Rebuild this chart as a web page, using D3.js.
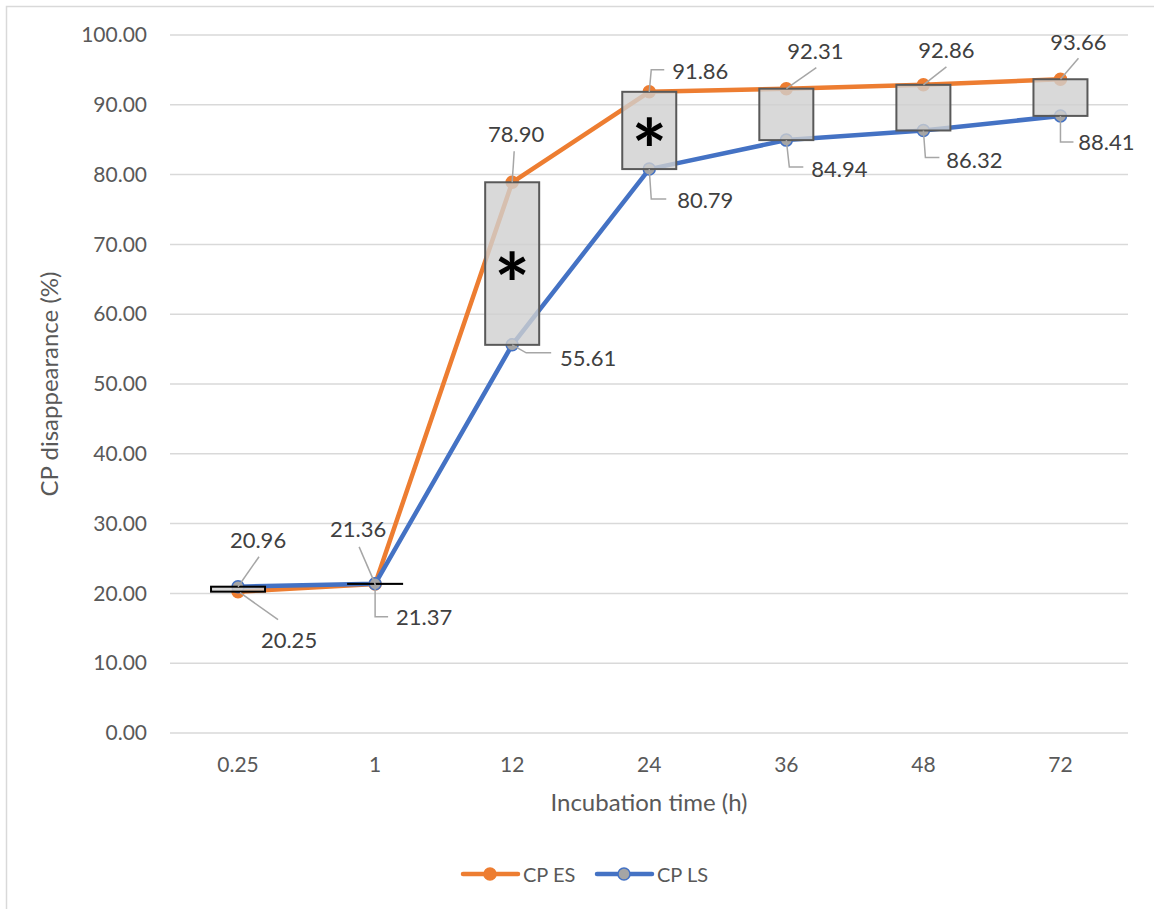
<!DOCTYPE html>
<html>
<head>
<meta charset="utf-8">
<script src="https://cdn.jsdelivr.net/npm/d3@7"></script>
<style>
  html, body { margin: 0; padding: 0; background: #fff; }
  svg { display: block; }
  text { font-family: Lato, "Open Sans", sans-serif; fill: #595959; }
</style>
</head>
<body>
<svg id="chart" width="1154" height="909"></svg>
<script>
// Incubation times (h) and CP disappearance (%) per silage type
const categories = ["0.25", "1", "12", "24", "36", "48", "72"];
const cpES = [20.25, 21.36, 78.90, 91.86, 92.31, 92.86, 93.66];
const cpLS = [20.96, 21.37, 55.61, 80.79, 84.94, 86.32, 88.41];
const significant = [false, false, true, true, false, false, false];
const yTicks = [0, 10, 20, 30, 40, 50, 60, 70, 80, 90, 100];
const seriesNames = ["CP ES", "CP LS"];

// Data-label placement: label centre offset and leader path, relative to the marker
const labelLayoutES = [
  { dx: 51, dy: 48, leader: [[2, 1], [40, 28]] },
  { dx: -17, dy: -55, leader: [[0, 0], [-16, -37]] },
  { dx: 4, dy: -49, leader: [[0, 0], [2, -31]] },
  { dx: 51, dy: -21, leader: [[0, 0], [2, -22], [15, -22]] },
  { dx: 29, dy: -38, leader: [[0, 0], [30, -21]] },
  { dx: 23, dy: -35, leader: [[0, 0], [23, -18]] },
  { dx: 18, dy: -38, leader: [[0, 0], [18, -21]] }
];
const labelLayoutLS = [
  { dx: 20, dy: -47, leader: [[0, 0], [21, -30]] },
  { dx: 49, dy: 33, leader: [[0, 0], [0, 33], [13, 33]] },
  { dx: 76, dy: 13, leader: [[0, 0], [14, 8], [39, 8]] },
  { dx: 56, dy: 30, leader: [[0, 0], [2, 30], [17, 30]] },
  { dx: 53, dy: 28, leader: [[0, 0], [3, 27], [17, 27]] },
  { dx: 51, dy: 29, leader: [[0, 0], [2, 27], [16, 27]] },
  { dx: 46, dy: 26, leader: [[0, 0], [0, 26], [13, 26]] }
];

const ORANGE = "#ED7D31", BLUE = "#4472C4", GRID = "#D9D9D9", LEADER = "#A6A6A6";

const svg = d3.select("#chart");

// chart frame
svg.append("path")
  .attr("d", "M6.5,909 L6.5,6.5 L1154,6.5")
  .attr("fill", "none").attr("stroke", GRID).attr("stroke-width", 1.5);

const x = d3.scaleBand().domain(categories).range([169.5, 1129]).padding(0);
const y = d3.scaleLinear().domain([0, 100]).range([733, 35]);
const cx = c => x(c) + x.bandwidth() / 2;

// horizontal gridlines
svg.append("g").selectAll("line").data(yTicks).join("line")
  .attr("x1", 170).attr("x2", 1128)
  .attr("y1", d => y(d)).attr("y2", d => y(d))
  .attr("stroke", GRID).attr("stroke-width", 1.5);

// y axis labels
const yAxis = svg.append("g").attr("transform", "translate(155,0)")
  .call(d3.axisLeft(y).tickValues(yTicks).tickFormat(d => d.toFixed(2)).tickSize(0).tickPadding(8));
yAxis.select(".domain").remove();
yAxis.selectAll("text").style("font-family", "Lato, sans-serif").style("font-size", "21px").attr("fill", "#595959");

// x axis labels
const xAxis = svg.append("g").attr("transform", "translate(0,733)")
  .call(d3.axisBottom(x).tickSize(0).tickPadding(24));
xAxis.select(".domain").remove();
xAxis.selectAll("text").style("font-family", "Lato, sans-serif").style("font-size", "21px").attr("fill", "#595959");

// axis titles
svg.append("text").attr("x", 649).attr("y", 811).attr("text-anchor", "middle")
  .style("font-size", "24px").text("Incubation time (h)");
svg.append("text").attr("transform", "translate(58,384) rotate(-90)").attr("text-anchor", "middle")
  .style("font-size", "24px").text("CP disappearance (%)");

// series lines
const line = d3.line().x((d, i) => cx(categories[i])).y(d => y(d));
svg.append("path").datum(cpES).attr("d", line)
  .attr("fill", "none").attr("stroke", ORANGE).attr("stroke-width", 4.5).attr("stroke-linejoin", "round");
svg.append("path").datum(cpLS).attr("d", line)
  .attr("fill", "none").attr("stroke", BLUE).attr("stroke-width", 4.5).attr("stroke-linejoin", "round");

// markers
svg.append("g").selectAll("circle").data(cpES).join("circle")
  .attr("cx", (d, i) => cx(categories[i])).attr("cy", d => y(d)).attr("r", 6)
  .attr("fill", ORANGE).attr("stroke", ORANGE).attr("stroke-width", 1.5);
svg.append("g").selectAll("circle").data(cpLS).join("circle")
  .attr("cx", (d, i) => cx(categories[i])).attr("cy", d => y(d)).attr("r", 6)
  .attr("fill", "#A5A5A5").attr("stroke", BLUE).attr("stroke-width", 1.5);

// difference boxes between the two series
const boxW = 54;
svg.append("g").selectAll("rect").data(categories).join("rect")
  .attr("x", c => cx(c) - boxW / 2)
  .attr("y", (c, i) => y(Math.max(cpES[i], cpLS[i])))
  .attr("width", boxW)
  .attr("height", (c, i) => Math.abs(y(cpES[i]) - y(cpLS[i])))
  .attr("fill", "#D0D0D0").attr("fill-opacity", 0.8)
  .attr("stroke", (c, i) => Math.abs(cpES[i] - cpLS[i]) < 1 ? "#000" : "#595959")
  .attr("stroke-width", 2);

// significance marks
svg.append("g").selectAll("text").data(categories.filter((c, i) => significant[i])).join("text")
  .attr("x", c => cx(c))
  .attr("y", c => {
    const i = categories.indexOf(c);
    return (y(cpES[i]) + y(cpLS[i])) / 2 + 51;
  })
  .attr("text-anchor", "middle")
  .style("font-size", "84px").style("font-weight", "bold").style("fill", "#000")
  .text("*");

// data labels with leader lines
function drawLabels(values, layout) {
  const g = svg.append("g");
  values.forEach((v, i) => {
    const px = cx(categories[i]), py = y(v), L = layout[i];
    g.append("path")
      .attr("d", d3.line()(L.leader.map(p => [px + p[0], py + p[1]])))
      .attr("fill", "none").attr("stroke", LEADER).attr("stroke-width", 1.5);
    g.append("text")
      .attr("x", px + L.dx).attr("y", py + L.dy)
      .attr("text-anchor", "middle").attr("dominant-baseline", "central")
      .style("font-size", "22px").style("fill", "#404040")
      .text(v.toFixed(2));
  });
}
drawLabels(cpES, labelLayoutES);
drawLabels(cpLS, labelLayoutLS);

// legend
const legend = svg.append("g").attr("transform", "translate(0,874)");
const legendItems = [
  { name: seriesNames[0], x: 463, color: ORANGE, fill: ORANGE },
  { name: seriesNames[1], x: 597, color: BLUE, fill: "#A5A5A5" }
];
legendItems.forEach(it => {
  legend.append("line").attr("x1", it.x).attr("x2", it.x + 55).attr("y1", 0).attr("y2", 0)
    .attr("stroke", it.color).attr("stroke-width", 4.5).attr("stroke-linecap", "round");
  legend.append("circle").attr("cx", it.x + 27).attr("cy", 0).attr("r", 6)
    .attr("fill", it.fill).attr("stroke", it.color).attr("stroke-width", 1.5);
  legend.append("text").attr("x", it.x + 60).attr("y", 0).attr("dominant-baseline", "central")
    .style("font-size", "20px").text(it.name);
});
</script>
</body>
</html>
